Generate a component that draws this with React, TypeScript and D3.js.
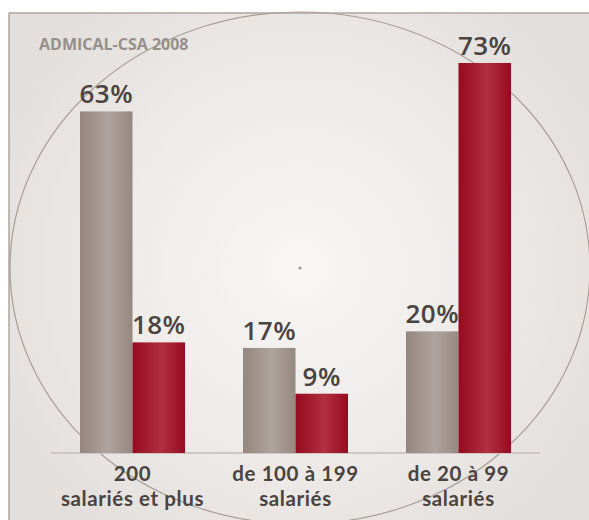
import React from "react";
import * as d3 from "d3";

const categories = ["200|salariés et plus", "de 100 à 199|salariés", "de 20 à 99|salariés"];
const seriesKeys = ["gris", "rouge"];
const grayValues = [63, 17, 20];
const redValues = [18, 9, 73];
const source = "ADMICAL-CSA 2008";

const W = 589;
const H = 520;
const baseY = 453;
const textColor = "#4b4340";
const font = "'Open Sans', sans-serif";

export default function App() {
  // group positions
  const x = d3
    .scaleBand()
    .domain(categories)
    .range([51, 540])
    .paddingInner(0.356)
    .paddingOuter(0.178);

  const xs = d3.scaleBand().domain(seriesKeys).range([0, x.bandwidth()]);

  // the original is not drawn to a strict linear scale
  const y = d3.scalePow().exponent(0.9).domain([0, 73]).range([baseY, 63]);

  const rows = categories.map((c, i) => ({
    cat: c,
    vals: [
      { key: "gris", v: grayValues[i] },
      { key: "rouge", v: redValues[i] },
    ],
  }));

  return (
    <div style={{ position: "absolute", left: 0, top: 0 }}>
      <svg width={W} height={H} style={{ display: "block" }}>
        <defs>
          <radialGradient id="bg" cx="300" cy="268" r="330" gradientUnits="userSpaceOnUse">
            <stop offset="0" stopColor="#f8f7f6" />
            <stop offset="0.55" stopColor="#eeebe9" />
            <stop offset="1" stopColor="#e3dfdc" />
          </radialGradient>
          <linearGradient id="g-gris" x1="0" x2="1" y1="0" y2="0">
            <stop offset="0" stopColor="#95877f" />
            <stop offset="0.55" stopColor="#afa49d" />
            <stop offset="1" stopColor="#958880" />
          </linearGradient>
          <linearGradient id="g-rouge" x1="0" x2="1" y1="0" y2="0">
            <stop offset="0" stopColor="#960a1f" />
            <stop offset="0.55" stopColor="#b02f40" />
            <stop offset="1" stopColor="#970a1f" />
          </linearGradient>
        </defs>

        <rect x={0} y={0} width={W} height={H} fill="#ffffff" />
        <rect x={9} y={13} width={W} height={H} fill="url(#bg)" stroke="#b1a59e" strokeWidth={1.5} />

        <ellipse cx={300} cy={268} rx={290} ry={256} fill="none" stroke="#a79f9a" strokeWidth={1.2} />
        <circle cx={300} cy={268} r={1.6} fill="#a09a97" />

        <text x={39} y={50} fontFamily={font} fontWeight={700} fontSize={16} fill="#978f8b">
          {source}
        </text>

        <line x1={x.range()[0]} x2={x.range()[1]} y1={baseY} y2={baseY} stroke="#cdc6c2" strokeWidth={2} />

        {rows.map((r) => (
          <g key={r.cat} transform={`translate(${x(r.cat)},0)`}>
            {r.vals.map((d) => (
              <g key={d.key}>
                <rect
                  x={xs(d.key)}
                  y={y(d.v)}
                  width={xs.bandwidth()}
                  height={baseY - y(d.v)}
                  fill={`url(#g-${d.key})`}
                />
                <text
                  x={(xs(d.key) as number) + xs.bandwidth() / 2}
                  y={y(d.v) - 8}
                  textAnchor="middle"
                  fontFamily={font}
                  fontWeight={600}
                  fontSize={26}
                  letterSpacing={0.5}
                  fill={textColor}
                >
                  {d.v}%
                </text>
              </g>
            ))}
            {r.cat.split("|").map((line, j) => (
              <text
                key={j}
                x={x.bandwidth() / 2}
                y={481 + j * 24.8}
                textAnchor="middle"
                fontFamily="Lato, sans-serif"
                fontWeight={700}
                fontSize={20.5}
                letterSpacing={0.6}
                fill={textColor}
              >
                {line}
              </text>
            ))}
          </g>
        ))}
      </svg>
    </div>
  );
}
